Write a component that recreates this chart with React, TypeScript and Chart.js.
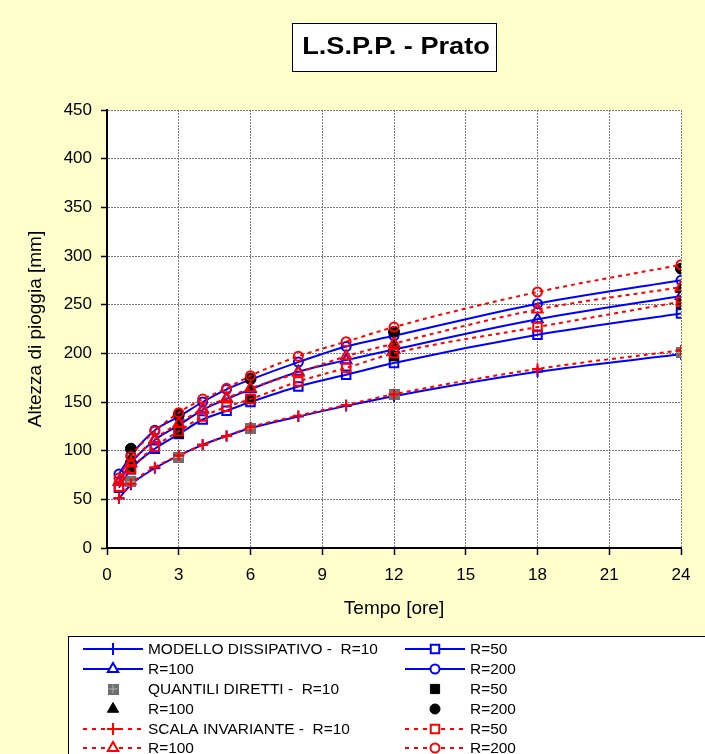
import React, { useEffect, useRef } from 'react';
import { Chart, registerables } from 'chart.js';

Chart.register(...registerables);

// ---------- data ----------
const TIMES = [0.5, 1, 2, 3, 4, 5, 6, 8, 10, 12, 18, 24];
const QD_TIMES = [1, 3, 6, 12, 24];

// Modello dissipativo
const MD_R10 = [51, 65, 82, 95, 106, 115, 123, 135, 146, 156, 181, 199];
const MD_R50 = [62, 81, 102, 117, 132, 141, 150, 166, 178, 190, 219, 241];
const MD_R100 = [68, 87, 111, 126, 142, 153, 163, 181, 193, 204, 235, 259];
const MD_R200 = [76, 95, 121, 135, 150, 163, 173, 191, 207, 218, 251, 275];

// Quantili diretti
const QD_R10 = [68, 93, 123, 158, 201];
const QD_R50 = [83, 118, 153, 197, 251];
const QD_R100 = [92, 126, 164, 207, 266];
const QD_R200 = [102, 137, 174, 222, 287];

// Scala invariante
const SI_R10 = [51, 66, 83, 95, 106, 115, 124, 136, 147, 158, 184, 203];
const SI_R50 = [63, 81, 104, 120, 135, 145, 153, 171, 185, 200, 227, 253];
const SI_R100 = [68, 87, 112, 128, 143, 154, 164, 180, 197, 210, 245, 268];
const SI_R200 = [72, 94, 120, 139, 153, 164, 177, 197, 212, 227, 263, 291];

const X_TICKS = [0, 3, 6, 9, 12, 15, 18, 21, 24];
const Y_TICKS = [0, 50, 100, 150, 200, 250, 300, 350, 400, 450];

const TITLE = 'L.S.P.P. - Prato';
const X_TITLE = 'Tempo [ore]';
const Y_TITLE = 'Altezza di pioggia [mm]';

const LEGEND_LABELS = [
  'MODELLO DISSIPATIVO -  R=10', 'R=50',
  'R=100', 'R=200',
  'QUANTILI DIRETTI -  R=10', 'R=50',
  'R=100', 'R=200',
  'SCALA INVARIANTE -  R=10', 'R=50',
  'R=100', 'R=200',
];

const FONT = '"Liberation Sans", Arial, sans-serif';
const BLUE = '#0000FF';
const RED = '#FF0000';

function pts(xs: number[], ys: number[]) {
  return xs.map((x, i) => ({ x, y: ys[i] }));
}

function makeGrayMarker(): HTMLCanvasElement {
  const c = document.createElement('canvas');
  c.width = 11; c.height = 11;
  const g = c.getContext('2d')!;
  g.fillStyle = '#6e6e6e';
  g.fillRect(0, 0, 11, 11);
  g.strokeStyle = '#b0b0b0';
  g.lineWidth = 1;
  g.beginPath();
  g.moveTo(5.5, 1); g.lineTo(5.5, 10);
  g.moveTo(1, 5.5); g.lineTo(10, 5.5);
  g.stroke();
  return c;
}

function drawMarker(ctx: CanvasRenderingContext2D, style: any, x: number, y: number, r: number, stroke: string, fill: string | null, lw: number) {
  ctx.save();
  ctx.lineWidth = lw;
  ctx.strokeStyle = stroke;
  if (style instanceof HTMLCanvasElement) {
    ctx.drawImage(style, x - style.width / 2, y - style.height / 2);
    ctx.restore();
    return;
  }
  ctx.beginPath();
  if (style === 'cross') {
    ctx.moveTo(x - r, y); ctx.lineTo(x + r, y);
    ctx.moveTo(x, y - r); ctx.lineTo(x, y + r);
    ctx.stroke();
    ctx.restore();
    return;
  }
  if (style === 'rect') {
    const s = Math.SQRT1_2 * r;
    ctx.rect(x - s, y - s, 2 * s, 2 * s);
  } else if (style === 'triangle') {
    const h = r * 1.5;
    const side = (r * 3) / Math.sqrt(3);
    ctx.moveTo(x - side / 2, y + h / 3);
    ctx.lineTo(x + side / 2, y + h / 3);
    ctx.lineTo(x, y - (2 * h) / 3);
    ctx.closePath();
  } else {
    ctx.arc(x, y, r, 0, Math.PI * 2);
  }
  if (fill) { ctx.fillStyle = fill; ctx.fill(); }
  ctx.stroke();
  ctx.restore();
}

export default function App() {
  const ref = useRef<HTMLCanvasElement>(null);

  useEffect(() => {
    const canvas = ref.current!;
    const gray = makeGrayMarker();

    const lineDs = (label: string, ys: number[], color: string, style: string, r: number, dashed: boolean, order: number) => ({
      label,
      data: pts(TIMES, ys),
      borderColor: color,
      backgroundColor: color,
      borderWidth: 2,
      borderDash: dashed ? [4, 4] : [],
      pointStyle: style,
      pointRadius: r,
      pointBorderColor: color,
      pointBackgroundColor: 'rgba(0,0,0,0)',
      pointBorderWidth: 2,
      cubicInterpolationMode: 'monotone',
      showLine: true,
      order,
    });
    const ptDs = (label: string, ys: number[], style: any, r: number, color: string) => ({
      label,
      data: pts(QD_TIMES, ys),
      showLine: false,
      borderColor: color,
      backgroundColor: color,
      pointStyle: style,
      pointRadius: r,
      pointBorderColor: color,
      pointBackgroundColor: color,
      pointBorderWidth: 1,
      order: 2,
    });

    const legendItems: any[] = [
      { kind: 'line', color: BLUE, dashed: false, style: 'cross', r: 6 },
      { kind: 'line', color: BLUE, dashed: false, style: 'rect', r: 6 },
      { kind: 'line', color: BLUE, dashed: false, style: 'triangle', r: 6 },
      { kind: 'line', color: BLUE, dashed: false, style: 'circle', r: 4.5 },
      { kind: 'pt', color: '#666', style: gray, r: 5 },
      { kind: 'pt', color: '#000', style: 'rect', r: 6.5 },
      { kind: 'pt', color: '#000', style: 'triangle', r: 6.5 },
      { kind: 'pt', color: '#000', style: 'circle', r: 5 },
      { kind: 'line', color: RED, dashed: true, style: 'cross', r: 6 },
      { kind: 'line', color: RED, dashed: true, style: 'rect', r: 6 },
      { kind: 'line', color: RED, dashed: true, style: 'triangle', r: 6 },
      { kind: 'line', color: RED, dashed: true, style: 'circle', r: 4.5 },
    ];

    const decor = {
      id: 'decor',
      beforeDraw(chart: any) {
        const { ctx, chartArea } = chart;
        ctx.save();
        ctx.fillStyle = '#FFFFCC';
        ctx.fillRect(0, 0, chart.width, chart.height);
        ctx.fillStyle = '#FFFFFF';
        ctx.fillRect(chartArea.left, chartArea.top, chartArea.right - chartArea.left, chartArea.bottom - chartArea.top);
        ctx.restore();
      },
      afterDraw(chart: any) {
        const ctx: CanvasRenderingContext2D = chart.ctx;
        ctx.save();
        // Title box
        ctx.fillStyle = '#FFFFFF';
        ctx.fillRect(292, 23, 205, 49);
        ctx.strokeStyle = '#000';
        ctx.lineWidth = 1;
        ctx.strokeRect(292.5, 23.5, 204, 48);
        ctx.fillStyle = '#000';
        ctx.font = `bold 23px ${FONT}`;
        ctx.textAlign = 'center';
        ctx.textBaseline = 'middle';
        ctx.save();
        ctx.translate(396, 48);
        ctx.scale(1.18, 1);
        ctx.fillText(TITLE, 0, 0);
        ctx.restore();

        // Legend box
        ctx.fillStyle = '#FFFFFF';
        ctx.fillRect(68, 636, 700, 130);
        ctx.strokeStyle = '#000';
        ctx.strokeRect(68.5, 636.5, 700, 130);

        const rowsY = [649, 669, 689, 709, 729, 748];
        const cols = [{ l0: 83, l1: 143, m: 113, t: 148 }, { l0: 405, l1: 465, m: 435, t: 470 }];
        legendItems.forEach((it, i) => {
          const row = Math.floor(i / 2);
          const col = cols[i % 2];
          const y = rowsY[row];
          if (it.kind === 'line') {
            ctx.save();
            ctx.strokeStyle = it.color;
            ctx.lineWidth = 2;
            ctx.setLineDash(it.dashed ? [4, 5] : []);
            ctx.beginPath();
            ctx.moveTo(col.l0, y);
            ctx.lineTo(col.l1, y);
            ctx.stroke();
            ctx.restore();
            drawMarker(ctx, it.style, col.m, y, it.r, it.color, '#FFFFFF', 2);
          } else {
            drawMarker(ctx, it.style, col.m, y, it.r, it.color, it.color, 1);
          }
          ctx.fillStyle = '#000';
          ctx.font = `15px ${FONT}`;
          ctx.textAlign = 'left';
          ctx.textBaseline = 'middle';
          ctx.save();
          ctx.translate(col.t, y + 1);
          ctx.scale(1.03, 1);
          ctx.fillText(LEGEND_LABELS[i], 0, 0);
          ctx.restore();
        });
        ctx.restore();
      },
    };

    const chart = new Chart(canvas, {
      type: 'line',
      data: {
        datasets: [
          lineDs('MD R=10', MD_R10, BLUE, 'cross', 5.5, false, 3),
          lineDs('MD R=50', MD_R50, BLUE, 'rect', 6, false, 3),
          lineDs('MD R=100', MD_R100, BLUE, 'triangle', 6, false, 3),
          lineDs('MD R=200', MD_R200, BLUE, 'circle', 4.5, false, 3),
          ptDs('QD R=10', QD_R10, gray, 5, '#6e6e6e'),
          ptDs('QD R=50', QD_R50, 'rect', 6.5, '#000'),
          ptDs('QD R=100', QD_R100, 'triangle', 6.5, '#000'),
          ptDs('QD R=200', QD_R200, 'circle', 5.5, '#000'),
          lineDs('SI R=10', SI_R10, RED, 'cross', 5.5, true, 1),
          lineDs('SI R=50', SI_R50, RED, 'rect', 6, true, 1),
          lineDs('SI R=100', SI_R100, RED, 'triangle', 6, true, 1),
          lineDs('SI R=200', SI_R200, RED, 'circle', 4.5, true, 1),
        ] as any,
      },
      options: {
        responsive: false,
        animation: false,
        devicePixelRatio: 1,
        layout: { padding: { left: 24, right: 24, top: 110, bottom: 134 } },
        plugins: {
          legend: { display: false },
          title: { display: false },
          tooltip: { enabled: false },
        },
        scales: {
          x: {
            type: 'linear',
            min: 0,
            max: 24,
            afterFit: (s: any) => { s.height = 72; },
            afterBuildTicks: (s: any) => { s.ticks = X_TICKS.map((v) => ({ value: v })); },
            ticks: { color: '#000', font: { family: FONT, size: 17 }, padding: 10, maxRotation: 0, autoSkip: false },
            grid: { color: '#7a7a7a', lineWidth: 1, tickColor: '#000', tickLength: 7, tickWidth: 1.5 },
            border: { color: '#000', width: 2, dash: [2, 1] },
            title: { display: true, text: X_TITLE, color: '#000', font: { family: FONT, size: 19 }, padding: 0 },
          },
          y: {
            type: 'linear',
            min: 0,
            max: 450,
            afterFit: (s: any) => { s.width = 83; },
            afterBuildTicks: (s: any) => { s.ticks = Y_TICKS.map((v) => ({ value: v })); },
            ticks: { color: '#000', font: { family: FONT, size: 17 }, padding: 9, autoSkip: false },
            grid: { color: '#7a7a7a', lineWidth: 1, tickColor: '#000', tickLength: 6, tickWidth: 1.5 },
            border: { color: '#000', width: 2, dash: [2, 1] },
            title: { display: true, text: Y_TITLE, color: '#000', font: { family: FONT, size: 19 }, padding: 0 },
          },
        },
      } as any,
      plugins: [decor],
    });

    return () => chart.destroy();
  }, []);

  return (
    <div style={{ position: 'fixed', left: 0, top: 0, width: 705, height: 754, background: '#FFFFCC' }}>
      <canvas ref={ref} width={705} height={754} style={{ display: 'block', width: 705, height: 754 }} />
    </div>
  );
}
